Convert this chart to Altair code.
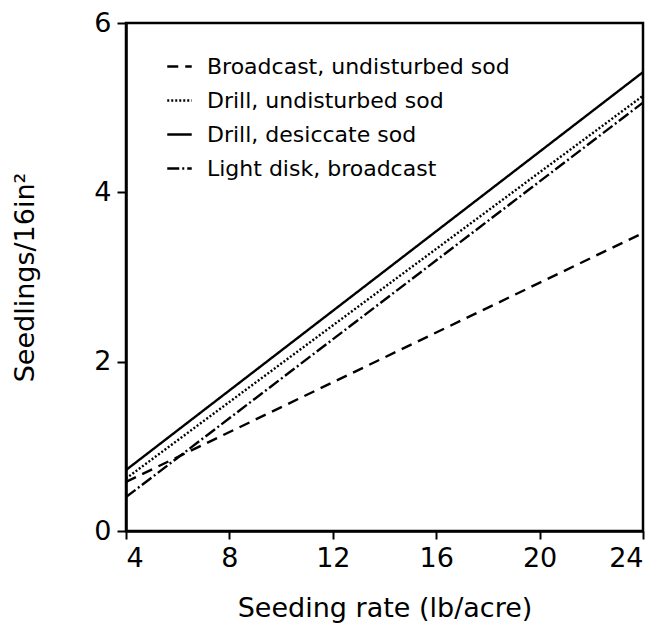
import altair as alt
import pandas as pd

series = ["Broadcast, undisturbed sod", "Drill, undisturbed sod",
          "Drill, desiccate sod", "Light disk, broadcast"]
x_start = [4, 4, 4, 4]
x_end = [24, 24, 24, 24]
y_start = [0.58, 0.62, 0.72, 0.40]
y_end = [3.52, 5.14, 5.42, 5.06]
dashes = [[11, 7], [2, 2], [1, 0], [12, 3, 2, 3]]

rows = []
for s, xa, xb, ya, yb in zip(series, x_start, x_end, y_start, y_end):
    rows.append({"series": s, "rate": xa, "seedlings": ya})
    rows.append({"series": s, "rate": xb, "seedlings": yb})
df = pd.DataFrame(rows)

FONT = "DejaVu Sans"

chart = alt.Chart(df).mark_line(color="black", strokeWidth=2.4, clip=True).encode(
    x=alt.X("rate:Q", scale=alt.Scale(domain=[4, 24], nice=False),
            axis=alt.Axis(values=[4, 8, 12, 16, 20, 24], title="Seeding rate (lb/acre)",
                          grid=False, tickSize=8, labelPadding=6, titlePadding=24)),
    y=alt.Y("seedlings:Q", scale=alt.Scale(domain=[0, 6], nice=False),
            axis=alt.Axis(values=[0, 2, 4, 6], title="Seedlings/16in²",
                          grid=False, tickSize=9, labelPadding=6, titlePadding=54)),
    strokeDash=alt.StrokeDash("series:N",
                              scale=alt.Scale(domain=series, range=dashes),
                              sort=series,
                              legend=alt.Legend(title=None, orient="none",
                                                legendX=40, legendY=30,
                                                symbolType="stroke", symbolSize=600,
                                                symbolStrokeWidth=2.4,
                                                symbolStrokeColor="black",
                                                labelFont=FONT, labelFontSize=22,
                                                labelColor="black", labelLimit=500,
                                                labelOffset=14, rowPadding=9)),
    detail="series:N",
).properties(
    width=517, height=508,
    autosize=alt.AutoSizeParams(type="none"),
    padding={"left": 118, "top": 15, "right": 8, "bottom": 95},
).configure_view(
    stroke="black", strokeWidth=2.5
).configure_axis(
    domainColor="black", domainWidth=2.5, tickColor="black", tickWidth=2,
    labelFont=FONT, labelFontSize=27, labelColor="black",
    titleFont=FONT, titleFontSize=27, titleColor="black", titleFontWeight="normal",
)

chart.save("out.html", embed_options={"renderer": "svg", "actions": False})
